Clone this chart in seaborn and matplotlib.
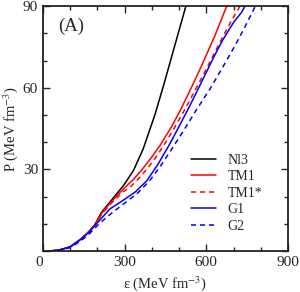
import pandas as pd
import matplotlib.pyplot as plt
import seaborn as sns
from matplotlib.ticker import MultipleLocator

# EoS curves: energy density (MeV fm^-3) vs pressure (MeV fm^-3)
eps_nl3 = [20, 60, 100, 140, 170, 190, 215, 250, 295, 332, 368, 411, 442, 480, 525]
p_nl3 = [0, 0.4, 1.6, 4.5, 7.3, 9.6, 14.2, 18.5, 24.0, 29.5, 37.5, 50.0, 60.5, 74.0, 90.0]

eps_tm1 = [20, 60, 100, 140, 170, 190, 215, 250, 295, 332, 362, 400, 430, 470, 505, 540, 580, 630, 675]
p_tm1 = [0, 0.4, 1.6, 4.5, 7.3, 9.5, 13.8, 18.0, 22.8, 26.3, 29.7, 34.6, 38.8, 45.3, 51.8, 59.0, 67.5, 78.8, 90.0]

eps_tm1s = [20, 60, 100, 140, 170, 190, 215, 250, 295, 320, 344, 381, 415, 448, 480, 510, 545, 577, 620, 662, 700, 724]
p_tm1s = [0, 0.4, 1.5, 4.3, 7.0, 9.2, 13.4, 17.5, 21.8, 23.5, 25.8, 30.0, 34.5, 39.5, 44.8, 50.0, 56.5, 62.5, 70.8, 79.0, 86.0, 90.0]

eps_g1 = [20, 60, 100, 140, 170, 209, 246, 295, 340, 381, 420, 460, 500, 540, 577, 626, 660, 700, 730, 742]
p_g1 = [0, 0.4, 1.5, 4.3, 7.0, 11.4, 15.5, 18.7, 21.8, 25.8, 31.5, 38.3, 45.8, 53.5, 61.0, 71.0, 77.5, 84.0, 87.8, 90.0]

eps_g2 = [20, 60, 100, 140, 170, 209, 258, 300, 350, 393, 430, 473, 515, 558, 613, 656, 700, 740, 780]
p_g2 = [0, 0.3, 1.3, 3.8, 6.3, 10.3, 14.4, 17.6, 21.5, 26.0, 31.0, 37.5, 44.0, 51.0, 59.5, 66.8, 74.5, 82.0, 90.0]

series = [
    ('Nl3', eps_nl3, p_nl3, 'black', '-'),
    ('TM1', eps_tm1, p_tm1, 'red', '-'),
    ('TM1*', eps_tm1s, p_tm1s, 'red', '--'),
    ('G1', eps_g1, p_g1, 'blue', '-'),
    ('G2', eps_g2, p_g2, 'blue', '--'),
]

sns.set_style('ticks')
plt.rcParams['font.family'] = ['Liberation Serif', 'DejaVu Serif']
plt.rcParams['mathtext.fontset'] = 'stix'

fig = plt.figure(figsize=(3.0, 2.92), dpi=100)
ax = fig.add_axes([0.143, 0.140, 0.817, 0.839])

for name, xs, ys, color, ls in series:
    d = pd.DataFrame({'eps': xs, 'P': ys})
    sns.lineplot(data=d, x='eps', y='P', ax=ax, color=color, linestyle=ls,
                 linewidth=1.1, sort=False, estimator=None, label=name)
    if ls == '--':
        ax.lines[-1].set_dashes((3.3, 2.6))

ax.set_xlim(0, 900)
ax.set_ylim(0, 90)
ax.xaxis.set_major_locator(MultipleLocator(300))
ax.xaxis.set_minor_locator(MultipleLocator(100))
ax.yaxis.set_major_locator(MultipleLocator(30))
ax.yaxis.set_minor_locator(MultipleLocator(10))
ax.set_yticks([0, 30, 60, 90], ['', '30', '60', '90'])
ax.set_xticks([0, 300, 600, 900], ['0', '300', '600', '900'])
ax.get_xticklabels()[0].set_horizontalalignment('right')
ax.tick_params(which='both', direction='in', top=True, right=True, labelsize=11)
ax.tick_params(which='major', length=5, width=1)
ax.tick_params(which='minor', length=3, width=1)
for s in ax.spines.values():
    s.set_linewidth(1.3)
    s.set_color('#222222')

ax.set_xlabel('ε (MeV fm$^{-3}$)', fontsize=10.5, labelpad=4)
ax.set_ylabel('P (MeV fm$^{-3}$)', fontsize=10.5, labelpad=2)
ax.text(55, 82.5, '(A)', fontsize=13.5, va='center')

ax.legend(loc='lower right', frameon=False, fontsize=10, handlelength=1.8,
          handletextpad=0.8, labelspacing=0.25, borderaxespad=0.4,
          bbox_to_anchor=(0.94, 0.03))

plt.savefig('out.png', dpi=100)
